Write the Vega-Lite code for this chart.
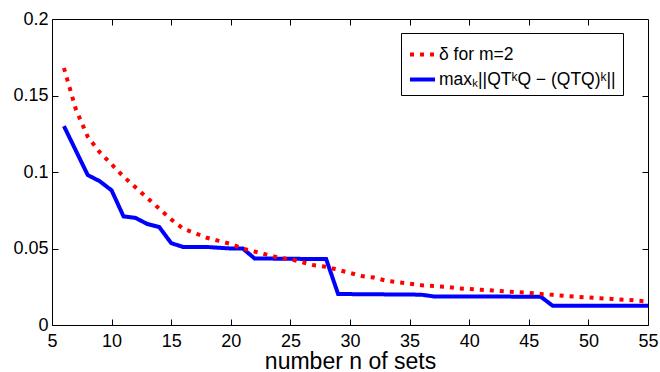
{
  "$schema": "https://vega.github.io/schema/vega-lite/v6.json",
  "width": 596,
  "height": 306,
  "autosize": {"type": "none"},
  "padding": {"left": 52, "top": 19, "right": 12, "bottom": 47},
  "background": "white",
  "config": {
    "font": "Liberation Sans",
    "view": {"stroke": "black", "strokeWidth": 1},
    "axis": {
      "domainColor": "black",
      "domainWidth": 1,
      "tickColor": "black",
      "tickWidth": 1,
      "tickSize": 6,
      "grid": false,
      "labelFont": "Liberation Sans",
      "labelFontSize": 18,
      "labelColor": "black",
      "titleFont": "Liberation Sans",
      "titleColor": "black",
      "titleFontWeight": "normal"
    },
    "legend": {
      "orient": "none",
      "legendX": 349,
      "legendY": 14,
      "strokeColor": "black",
      "fillColor": "white",
      "padding": 7,
      "cornerRadius": 0,
      "symbolType": "stroke",
      "symbolSize": 625,
      "symbolStrokeWidth": 4,
      "labelFont": "Liberation Sans",
      "labelFontSize": 17.5,
      "labelColor": "black",
      "labelOffset": 2,
      "rowPadding": 2,
      "labelLimit": 400
    }
  },
  "datasets": {
    "d": [
      {"n": 6, "series": "max", "value": 0.130},
      {"n": 7, "series": "max", "value": 0.114},
      {"n": 8, "series": "max", "value": 0.098},
      {"n": 9, "series": "max", "value": 0.094},
      {"n": 10, "series": "max", "value": 0.088},
      {"n": 11, "series": "max", "value": 0.071},
      {"n": 12, "series": "max", "value": 0.070},
      {"n": 13, "series": "max", "value": 0.066},
      {"n": 14, "series": "max", "value": 0.064},
      {"n": 15, "series": "max", "value": 0.0535},
      {"n": 16, "series": "max", "value": 0.051},
      {"n": 17, "series": "max", "value": 0.051},
      {"n": 18, "series": "max", "value": 0.051},
      {"n": 19, "series": "max", "value": 0.0505},
      {"n": 20, "series": "max", "value": 0.050},
      {"n": 21, "series": "max", "value": 0.050},
      {"n": 22, "series": "max", "value": 0.0435},
      {"n": 23, "series": "max", "value": 0.0435},
      {"n": 24, "series": "max", "value": 0.0433},
      {"n": 25, "series": "max", "value": 0.0433},
      {"n": 26, "series": "max", "value": 0.0432},
      {"n": 27, "series": "max", "value": 0.0432},
      {"n": 28, "series": "max", "value": 0.0431},
      {"n": 29, "series": "max", "value": 0.0203},
      {"n": 30, "series": "max", "value": 0.0202},
      {"n": 31, "series": "max", "value": 0.0201},
      {"n": 32, "series": "max", "value": 0.0201},
      {"n": 33, "series": "max", "value": 0.0200},
      {"n": 34, "series": "max", "value": 0.0200},
      {"n": 35, "series": "max", "value": 0.0199},
      {"n": 36, "series": "max", "value": 0.0198},
      {"n": 37, "series": "max", "value": 0.0187},
      {"n": 38, "series": "max", "value": 0.0187},
      {"n": 39, "series": "max", "value": 0.0186},
      {"n": 40, "series": "max", "value": 0.0186},
      {"n": 41, "series": "max", "value": 0.0186},
      {"n": 42, "series": "max", "value": 0.0186},
      {"n": 43, "series": "max", "value": 0.0186},
      {"n": 44, "series": "max", "value": 0.0185},
      {"n": 45, "series": "max", "value": 0.0185},
      {"n": 46, "series": "max", "value": 0.0185},
      {"n": 47, "series": "max", "value": 0.0126},
      {"n": 48, "series": "max", "value": 0.0126},
      {"n": 49, "series": "max", "value": 0.0126},
      {"n": 50, "series": "max", "value": 0.0126},
      {"n": 51, "series": "max", "value": 0.0126},
      {"n": 52, "series": "max", "value": 0.0126},
      {"n": 53, "series": "max", "value": 0.0126},
      {"n": 54, "series": "max", "value": 0.0126},
      {"n": 55, "series": "max", "value": 0.0126},
      {"n": 6, "series": "delta", "value": 0.168},
      {"n": 7, "series": "delta", "value": 0.141},
      {"n": 8, "series": "delta", "value": 0.123},
      {"n": 9, "series": "delta", "value": 0.113},
      {"n": 10, "series": "delta", "value": 0.105},
      {"n": 11, "series": "delta", "value": 0.097},
      {"n": 12, "series": "delta", "value": 0.090},
      {"n": 13, "series": "delta", "value": 0.083},
      {"n": 14, "series": "delta", "value": 0.076},
      {"n": 15, "series": "delta", "value": 0.069},
      {"n": 16, "series": "delta", "value": 0.063},
      {"n": 17, "series": "delta", "value": 0.060},
      {"n": 18, "series": "delta", "value": 0.057},
      {"n": 19, "series": "delta", "value": 0.055},
      {"n": 20, "series": "delta", "value": 0.053},
      {"n": 21, "series": "delta", "value": 0.050},
      {"n": 22, "series": "delta", "value": 0.048},
      {"n": 23, "series": "delta", "value": 0.046},
      {"n": 24, "series": "delta", "value": 0.044},
      {"n": 25, "series": "delta", "value": 0.043},
      {"n": 26, "series": "delta", "value": 0.041},
      {"n": 27, "series": "delta", "value": 0.039},
      {"n": 28, "series": "delta", "value": 0.038},
      {"n": 29, "series": "delta", "value": 0.036},
      {"n": 30, "series": "delta", "value": 0.034},
      {"n": 31, "series": "delta", "value": 0.032},
      {"n": 32, "series": "delta", "value": 0.031},
      {"n": 33, "series": "delta", "value": 0.029},
      {"n": 34, "series": "delta", "value": 0.028},
      {"n": 35, "series": "delta", "value": 0.027},
      {"n": 36, "series": "delta", "value": 0.026},
      {"n": 37, "series": "delta", "value": 0.0255},
      {"n": 38, "series": "delta", "value": 0.025},
      {"n": 39, "series": "delta", "value": 0.024},
      {"n": 40, "series": "delta", "value": 0.0235},
      {"n": 41, "series": "delta", "value": 0.023},
      {"n": 42, "series": "delta", "value": 0.0225},
      {"n": 43, "series": "delta", "value": 0.022},
      {"n": 44, "series": "delta", "value": 0.0215},
      {"n": 45, "series": "delta", "value": 0.021},
      {"n": 46, "series": "delta", "value": 0.0203},
      {"n": 47, "series": "delta", "value": 0.0197},
      {"n": 48, "series": "delta", "value": 0.019},
      {"n": 49, "series": "delta", "value": 0.0185},
      {"n": 50, "series": "delta", "value": 0.018},
      {"n": 51, "series": "delta", "value": 0.0175},
      {"n": 52, "series": "delta", "value": 0.017},
      {"n": 53, "series": "delta", "value": 0.0165},
      {"n": 54, "series": "delta", "value": 0.016},
      {"n": 55, "series": "delta", "value": 0.0153}
    ]
  },
  "data": {"name": "d"},
  "transform": [
    {"calculate": "datum.series === 'delta' ? 'δ for m=2' : 'maxₖ||QTᵏQ − (QTQ)ᵏ||'", "as": "label"}
  ],
  "layer": [
    {
      "layer": [
        {
          "transform": [{"filter": "datum.series === 'max'"}],
          "mark": {"type": "line", "strokeWidth": 4, "strokeCap": "butt", "strokeJoin": "miter"},
          "encoding": {
            "x": {"field": "n", "type": "quantitative", "scale": {"domain": [5, 55], "nice": false, "zero": false},
                  "axis": {"orient": "bottom", "values": [5,10,15,20,25,30,35,40,45,50,55], "ticks": false, "domain": true, "labelPadding": 7, "title": "number n of sets", "titleFontSize": 23, "titlePadding": 0, "labelFlush": false}},
            "y": {"field": "value", "type": "quantitative", "scale": {"domain": [0, 0.2], "nice": false},
                  "axis": {"orient": "left", "values": [0, 0.05, 0.1, 0.15, 0.2], "format": "~g", "ticks": false, "domain": true, "labelPadding": 4, "title": null, "labelFlush": false}},
            "color": {"field": "label", "type": "nominal", "title": null,
                      "scale": {"domain": ["δ for m=2", "maxₖ||QTᵏQ − (QTQ)ᵏ||"], "range": ["#ff0000", "#0000ff"]}},
            "strokeDash": {"field": "label", "type": "nominal", "title": null,
                      "scale": {"domain": ["δ for m=2", "maxₖ||QTᵏQ − (QTQ)ᵏ||"], "range": [[4, 6], [1, 0]]}}
          }
        },
        {
          "transform": [{"filter": "datum.series === 'delta'"}],
          "mark": {"type": "line", "strokeWidth": 4, "strokeCap": "butt"},
          "encoding": {
            "x": {"field": "n", "type": "quantitative"},
            "y": {"field": "value", "type": "quantitative"},
            "color": {"field": "label", "type": "nominal", "title": null},
            "strokeDash": {"field": "label", "type": "nominal", "title": null}
          }
        }
      ]
    },
    {
      "mark": {"type": "line", "opacity": 0},
      "encoding": {
        "x": {"field": "n", "type": "quantitative", "scale": {"domain": [5, 55], "nice": false, "zero": false},
              "axis": {"orient": "top", "values": [10,15,20,25,30,35,40,45,50], "offset": -6, "ticks": true, "domain": false, "labels": false, "title": null}},
        "y": {"field": "value", "type": "quantitative", "scale": {"domain": [0, 0.2], "nice": false},
              "axis": {"orient": "right", "values": [0.05, 0.1, 0.15], "offset": -6, "ticks": true, "domain": false, "labels": false, "title": null}},
        "detail": {"field": "series", "type": "nominal"}
      }
    },
    {
      "mark": {"type": "line", "opacity": 0},
      "encoding": {
        "x": {"field": "n", "type": "quantitative", "scale": {"domain": [5, 55], "nice": false, "zero": false},
              "axis": {"orient": "bottom", "values": [10,15,20,25,30,35,40,45,50], "offset": -6, "ticks": true, "domain": false, "labels": false, "title": null}},
        "y": {"field": "value", "type": "quantitative", "scale": {"domain": [0, 0.2], "nice": false},
              "axis": {"orient": "left", "values": [0.05, 0.1, 0.15], "offset": -6, "ticks": true, "domain": false, "labels": false, "title": null}},
        "detail": {"field": "series", "type": "nominal"}
      }
    }
  ],
  "resolve": {"axis": {"x": "independent", "y": "independent"}}
}
